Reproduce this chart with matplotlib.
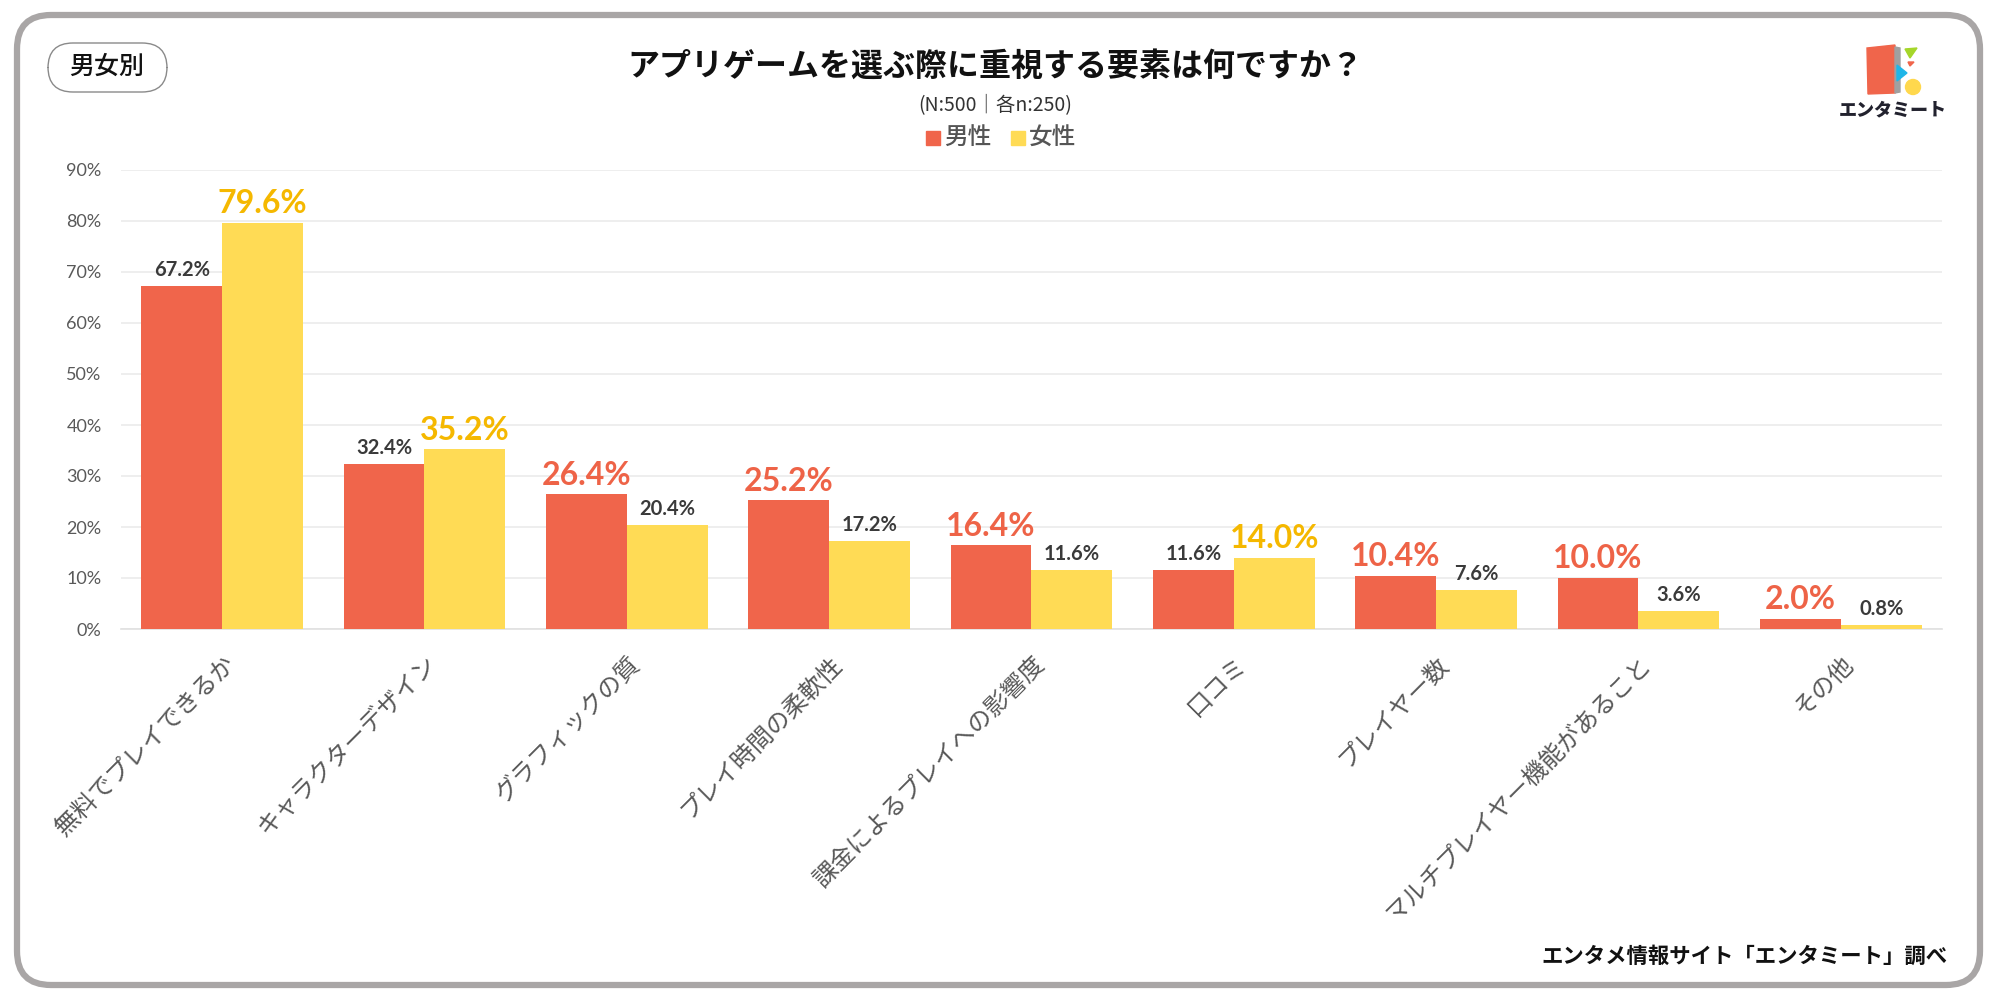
import matplotlib
matplotlib.use("Agg")
import matplotlib.pyplot as plt
from matplotlib.patches import FancyBboxPatch, Rectangle, Polygon, Ellipse
from matplotlib.transforms import Bbox
import numpy as np

plt.rcParams['font.family'] = ['Noto Sans CJK JP', 'DejaVu Sans']

# data
categories = ['無料でプレイできるか', 'キャラクターデザイン', 'グラフィックの質', 'プレイ時間の柔軟性',
              '課金によるプレイへの影響度', '口コミ', 'プレイヤー数', 'マルチプレイヤー機能があること', 'その他']
male = [67.2, 32.4, 26.4, 25.2, 16.4, 11.6, 10.4, 10.0, 2.0]
female = [79.6, 35.2, 20.4, 17.2, 11.6, 14.0, 7.6, 3.6, 0.8]
yticks = [0, 10, 20, 30, 40, 50, 60, 70, 80, 90]

RED = '#F0654B'
YEL = '#FFDB55'
RED_TXT = '#EE6347'
YEL_TXT = '#F5B800'
GREY_TXT = '#3A3A3A'

W, H = 1999, 1000
fig = plt.figure(figsize=(W / 100, H / 100), dpi=100)

def px(x, y):
    # pixel coords (top-left origin) -> figure fraction
    return x / W, 1 - y / H

# outer rounded frame
fig.patches.append(FancyBboxPatch((17 / W, 15 / H), (1980 - 17) / W, (985 - 15) / H,
                                  boxstyle="round,pad=0,rounding_size=0.017",
                                  transform=fig.transFigure, fill=False,
                                  edgecolor='#A9A6A6', linewidth=4.5, mutation_aspect=2.0))

# main axes
left, right, top, bottom = 121, 1942, 170, 629
ax = fig.add_axes([left / W, 1 - bottom / H, (right - left) / W, (bottom - top) / H])
x = np.arange(len(categories))
bw = 0.4
ax.bar(x - bw / 2, male, bw, color=RED, zorder=3)
ax.bar(x + bw / 2, female, bw, color=YEL, zorder=3)
ax.set_xlim(-0.5, len(categories) - 0.5)
ax.set_ylim(0, 90)
ax.set_yticks(yticks)
ax.set_yticklabels([f'{v}%' for v in yticks], fontsize=13, color='#595959', family=['Lato', 'DejaVu Sans'])
ax.grid(axis='y', color='#EBEBEB', linewidth=1.2, zorder=0)
ax.tick_params(axis='both', length=0)
ax.tick_params(axis='y', pad=14)
for s in ['top', 'right', 'left']:
    ax.spines[s].set_visible(False)
ax.spines['bottom'].set_color('#E0E0E0')
ax.spines['bottom'].set_linewidth(1.2)

ax.set_xticks(x)
ax.set_xticklabels(categories, fontsize=17.5, color='#595959')
ax.tick_params(axis='x', pad=16)
clip = Bbox([[0, H - 914], [W, H]])
for lab in ax.get_xticklabels():
    lab.set_rotation(45)
    lab.set_ha('right')
    lab.set_rotation_mode('anchor')
    lab.set_clip_box(clip)
    lab.set_clip_on(True)

# value labels: the larger of each pair is emphasised
numfont = ['Lato', 'DejaVu Sans']
for i in range(len(categories)):
    m, f = male[i], female[i]
    for val, xpos, big, col in [(m, x[i] - bw / 2, m >= f, RED_TXT), (f, x[i] + bw / 2, f > m, YEL_TXT)]:
        if big:
            ax.text(xpos, val + 0.9, f'{val:.1f}%', ha='center', va='bottom', fontsize=23,
                    fontweight='bold', color=col, family=numfont, zorder=4)
        else:
            ax.text(xpos, val + 1.2, f'{val:.1f}%', ha='center', va='bottom', fontsize=14.5,
                    fontweight='bold', color=GREY_TXT, family=numfont, zorder=4)

# title / subtitle
fig.text(*px(995, 67), 'アプリゲームを選ぶ際に重視する要素は何ですか？', ha='center', va='center',
         fontsize=23, fontweight='bold', color='#111111')
fig.text(*px(995, 105), '(N:500｜各n:250)', ha='center', va='center', fontsize=14, color='#333333')

# legend
fig.patches.append(Rectangle(px(926, 145), 14 / W, 14 / H, transform=fig.transFigure, color=RED))
fig.text(*px(944, 138), '男性', ha='left', va='center', fontsize=17, fontweight='medium', color='#555555')
fig.patches.append(Rectangle(px(1011, 145), 14 / W, 14 / H, transform=fig.transFigure, color=YEL))
fig.text(*px(1029, 138), '女性', ha='left', va='center', fontsize=17, fontweight='medium', color='#555555')

# badge
fig.patches.append(FancyBboxPatch((48 / W, 1 - 92 / H), (167 - 48) / W, (92 - 43) / H,
                                  boxstyle="round,pad=0,rounding_size=0.0125",
                                  transform=fig.transFigure, facecolor='white',
                                  edgecolor='#8A8A8A', linewidth=1.0, mutation_aspect=2.0))
fig.text(*px(107, 67), '男女別', ha='center', va='center', fontsize=18, fontweight='medium', color='#111111')

# logo
logo = [
    Polygon([px(1867, 48), px(1895, 45), px(1895, 93), px(1868, 94)], closed=True, color='#F0654B'),
    Polygon([px(1895, 47), px(1900, 48), px(1900, 92), px(1895, 93)], closed=True, color='#A0A0A0'),
    Polygon([px(1905, 49), px(1917, 48), px(1910, 58)], closed=True, color='#A5D62A'),
    Polygon([px(1908, 62), px(1914, 62), px(1910, 66)], closed=True, color='#F0654B'),
    Polygon([px(1897, 65), px(1907, 73), px(1897, 81)], closed=True, color='#1FB6E8'),
    Ellipse(px(1913, 87), 15 / W, 15 / H, color='#FFD84D'),
]
for p in logo:
    p.set_transform(fig.transFigure)
    fig.patches.append(p)
fig.text(*px(1893, 110), 'エンタミート', ha='center', va='center', fontsize=13,
         fontweight='black', color='#22222E')

# credit
fig.text(*px(1948, 956), 'エンタメ情報サイト「エンタミート」調べ', ha='right', va='center',
         fontsize=15.4, fontweight='bold', color='#111111')

fig.savefig('out.png', dpi=100)
